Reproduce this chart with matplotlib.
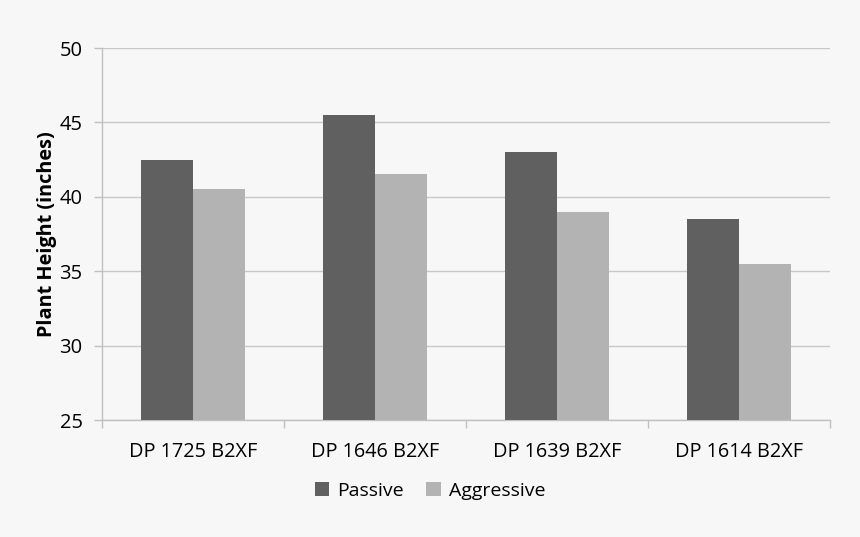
import matplotlib
matplotlib.use("Agg")
import matplotlib.pyplot as plt
import numpy as np

categories = ["DP 1725 B2XF", "DP 1646 B2XF", "DP 1639 B2XF", "DP 1614 B2XF"]
passive = [42.5, 45.5, 43.0, 38.5]
aggressive = [40.5, 41.5, 39.0, 35.5]
yticks = [25, 30, 35, 40, 45, 50]

plt.rcParams['font.family'] = ['Open Sans', 'DejaVu Sans']
bg = '#f7f7f7'
fig = plt.figure(figsize=(8.6, 5.37), dpi=100, facecolor=bg)
ax = fig.add_axes([102/860, 1-420/537, 728/860, 372/537], facecolor=bg)

x = np.arange(len(categories))
w = 1/3.5
ax.bar(x - w/2, passive, width=w, color='#606060', label='Passive', zorder=3)
ax.bar(x + w/2, aggressive, width=w, color='#b3b3b3', label='Aggressive', zorder=3)

ax.set_xlim(-0.5, len(categories) - 0.5)
ax.set_ylim(25, 50)
ax.set_yticks(yticks)
ax.set_yticklabels([str(t) for t in yticks], fontsize=14.5)
ax.yaxis.grid(True, color='#c8c8c8', linewidth=1, zorder=0)
ax.set_xticks(x)
ax.set_xticklabels(categories, fontsize=14.3)
ax.tick_params(axis='x', length=0, pad=16)
ax.set_xticks(np.arange(len(categories) + 1) - 0.5, minor=True)
ax.tick_params(axis='x', which='minor', length=6, color='#c0c0c0', width=1)
ax.tick_params(axis='y', length=6, color='#c0c0c0', width=1, pad=8)
for s in ['top', 'right']:
    ax.spines[s].set_visible(False)
for s in ['left', 'bottom']:
    ax.spines[s].set_color('#c0c0c0')
    ax.spines[s].set_linewidth(1)
ax.set_ylabel('Plant Height (inches)', fontsize=14.3, fontweight='bold', labelpad=2)

fig.legend(loc='center', bbox_to_anchor=(430/860, 1-491/537), ncol=2, frameon=False,
           fontsize=14, handlelength=0.75, handleheight=0.75, handletextpad=0.4, columnspacing=1.15)

fig.savefig('out.png', dpi=100, facecolor=bg)
